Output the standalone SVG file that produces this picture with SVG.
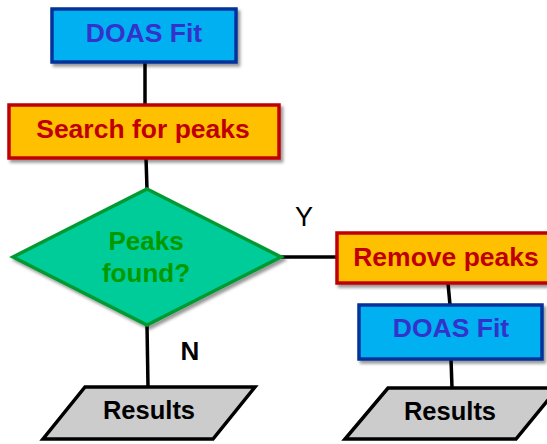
<svg xmlns="http://www.w3.org/2000/svg" width="547" height="444" viewBox="0 0 547 444">
<defs>
<filter id="sh" x="-10%" y="-10%" width="130%" height="140%">
<feDropShadow dx="2.5" dy="3" stdDeviation="1.8" flood-color="#000" flood-opacity="0.4"/>
</filter>
<style>
text{font-family:"Liberation Sans",Arial,sans-serif;font-weight:bold;text-anchor:middle}
.conn line{stroke:#000;stroke-width:3.5}
.fit rect{fill:#00B0F0;stroke:#003399;stroke-width:3.5}
.fit text{fill:#3333CC;font-size:26.5px}
.proc rect{fill:#FFC000;stroke:#C00000;stroke-width:3.5}
.proc text{fill:#C00000;font-size:26.5px}
.dec polygon{fill:#00CC99;stroke:#009933;stroke-width:3.5}
.dec text{fill:#009900;font-size:26px}
.res polygon{fill:#CCCCCC;stroke:#000;stroke-width:3.5}
.res text{fill:#000;font-size:25.5px}
.lbl{fill:#000;font-size:27px}
</style>
</defs>
<g class="conn" id="connectors">
<line x1="145" y1="62" x2="145" y2="105"/>
<line x1="146" y1="158" x2="147" y2="189"/>
<line x1="147" y1="325" x2="148" y2="387"/>
<line x1="281" y1="257" x2="337" y2="257"/>
<line x1="448" y1="283" x2="450" y2="305"/>
<line x1="451" y1="359" x2="452" y2="388"/>
</g>
<g id="doas1" class="fit"><rect x="52" y="9" width="184" height="53" filter="url(#sh)"/><text x="144" y="42">DOAS Fit</text></g>
<g id="search" class="proc"><rect x="9" y="105" width="270" height="53" filter="url(#sh)"/><text x="143" y="138">Search for peaks</text></g>
<g id="decision" class="dec"><polygon points="147,189 281,257 147,325 13,257" filter="url(#sh)"/><text x="146" y="250">Peaks</text><text x="146" y="282">found?</text></g>
<g id="remove" class="proc"><rect x="337" y="233" width="215" height="50" filter="url(#sh)"/><text x="446" y="266">Remove peaks</text></g>
<g id="doas2" class="fit"><rect x="359" y="305" width="183" height="54" filter="url(#sh)"/><text x="451" y="337">DOAS Fit</text></g>
<g id="results1" class="res"><polygon points="85,387 255,387 213,439 43,439"/><text x="149" y="419">Results</text></g>
<g id="results2" class="res"><polygon points="388,388 558,388 516,439 345,439"/><text x="450" y="420">Results</text></g>
<g id="labels"><text class="lbl" x="304" y="226" style="font-weight:normal">Y</text><text class="lbl" x="190" y="360" style="font-size:26px">N</text></g>
</svg>
